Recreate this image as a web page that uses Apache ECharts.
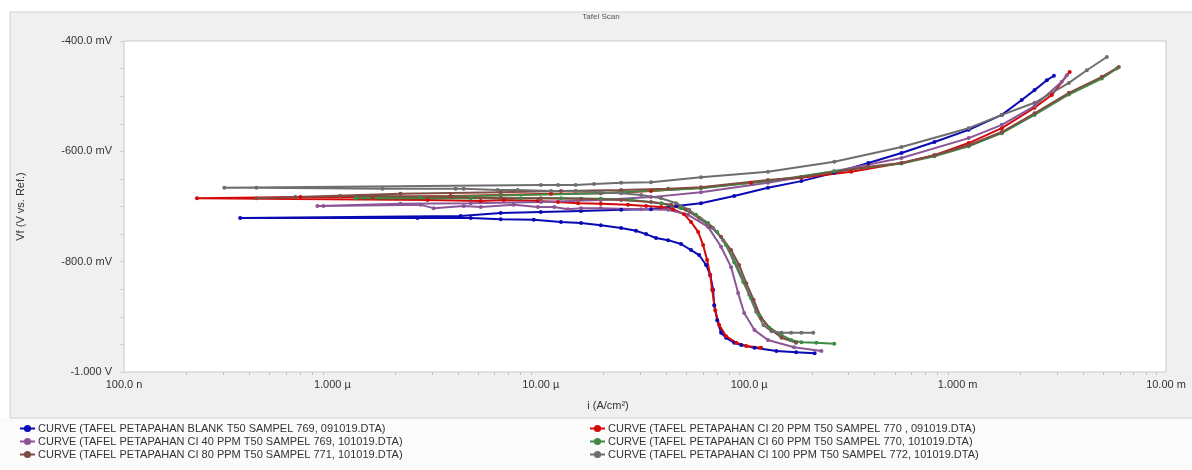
<!DOCTYPE html>
<html><head><meta charset="utf-8">
<script src="https://cdn.jsdelivr.net/npm/echarts@6/dist/echarts.min.js"></script>
<style>html,body{margin:0;padding:0;background:#fff}#c{width:1192px;height:470px}</style>
</head><body><div id="c"></div>
<script>
// current density in µA/cm², potential in mV (scan order: cathodic -> anodic)
const seriesNames = [
  'CURVE (TAFEL PETAPAHAN BLANK T50 SAMPEL 769, 091019.DTA)',
  'CURVE (TAFEL PETAPAHAN CI 20 PPM T50 SAMPEL 770 , 091019.DTA)',
  'CURVE (TAFEL PETAPAHAN CI 40 PPM T50 SAMPEL 769, 101019.DTA)',
  'CURVE (TAFEL PETAPAHAN CI 60 PPM T50 SAMPEL 770, 101019.DTA)',
  'CURVE (TAFEL PETAPAHAN CI 80 PPM T50 SAMPEL 771, 101019.DTA)',
  'CURVE (TAFEL PETAPAHAN CI 100 PPM T50 SAMPEL 772, 101019.DTA)'
];
const seriesColors = ['#0a0ab4', '#d40a0a', '#8c5596', '#3f8a45', '#7e4d44', '#6e6e6e'];

const blankI = [206,168,135,106,91.6,84.7,77.4,73.3,70.2,67.9,67.1,65.0,62.1,57.5,52.6,47.1,40.8,35.7,32.0,28.6,24.3,19.4,15.6,12.5,9.25,6.42,4.61,2.56,0.361,
  4.12,6.42,10,15.6,24.3,33.8,44.6,58.7,84.7,123,178,256,373,538,774,1130,1630,2030,2340,2680,2900];
const blankV = [-966,-964,-962,-956,-951,-947,-938,-929,-906,-879,-851,-824,-806,-788,-779,-768,-761,-757,-750,-744,-739,-734,-730,-728,-724,-723,-721,-721,-721,
  -717,-712,-710,-708,-706,-705,-699,-694,-681,-666,-654,-639,-621,-603,-583,-561,-534,-507,-489,-471,-463];

const ci20I = [114,96.8,86.7,77.4,71.8,68.7,66.4,65.0,62.8,60.1,56.9,52.6,48.7,43.1,37.8,32.0,26.2,19.4,15.1,12.1,9.68,6.64,5.15,2.86,0.224,
  0.702,1.56,3.69,6.42,11.2,19.4,33.8,58.7,102,178,309,538,774,1130,1630,2340,2830,3450];
const ci20V = [-956,-953,-947,-935,-915,-888,-851,-824,-797,-770,-746,-728,-714,-705,-701,-699,-697,-695,-694,-692,-690,-688,-690,-688,-685,
  -683,-683,-681,-679,-677,-676,-672,-666,-657,-648,-637,-621,-607,-585,-558,-521,-498,-456];

const ci40I = [222,164,123,106,94.6,88.5,81.9,73.3,63.5,50.9,40.8,30.3,19.4,15.6,13.5,11.6,9.68,7.41,5.15,4.27,3.06,2.65,0.906,0.847,
  2.12,4.61,10,19.4,33.8,58.7,123,256,538,1130,1630,2340,3160,3340];
const ci40V = [-962,-955,-942,-924,-893,-857,-810,-773,-737,-715,-706,-705,-703,-703,-705,-701,-701,-697,-701,-699,-703,-697,-699,-699,
  -695,-694,-692,-688,-683,-674,-657,-636,-612,-576,-552,-518,-474,-462];

const ci60I = [256,210,178,159,143,125,112,102,93.6,84.7,77.4,70.2,63.5,55.6,47.1,37.8,27.1,19.4,12.5,8.01,4.61,1.29,
  2.65,6.42,19.4,58.7,123,256,538,774,1130,1630,2340,3420,4920,5800];
const ci60V = [-949,-947,-946,-942,-933,-920,-897,-866,-837,-801,-770,-746,-730,-715,-703,-694,-688,-686,-685,-685,-685,-685,
  -683,-680,-676,-667,-654,-636,-622,-609,-591,-567,-534,-497,-468,-450];

const ci80I = [168,143,128,114,105,96.8,89.5,81.9,73.3,65.6,57.5,49.8,42.2,33.8,24.3,15.6,10,6.42,3.69,1.56,1.09,0.664,0.432,
  2.12,6.42,12.5,24.3,40.8,58.7,123,178,373,538,774,1130,1630,2340,3420,4920,5940];
const ci80V = [-947,-938,-924,-902,-869,-839,-806,-779,-755,-737,-721,-706,-697,-692,-688,-686,-685,-685,-683,-681,-681,-683,-685,
  -677,-674,-672,-670,-668,-665,-652,-647,-628,-621,-607,-589,-565,-531,-494,-465,-447];

const ci100I = [203,178,159,143,128,117,108,100,91.6,83.8,75.0,67.1,58.7,51.5,44.6,37.8,30.3,24.3,19.4,14.7,11.2,7.74,6.21,4.27,3.90,1.74,0.432,0.303,
  10,12.1,14.7,18.0,24.3,33.8,58.7,123,256,538,1130,1630,2340,3420,4170,5200];
const ci100V = [-929,-929,-929,-929,-926,-915,-891,-860,-824,-793,-761,-739,-723,-706,-694,-685,-679,-676,-674,-672,-672,-670,-670,-668,-668,-668,-666,-666,
  -661,-661,-661,-659,-657,-656,-647,-637,-619,-592,-558,-534,-512,-476,-453,-429];

const xTickValues = [0.1, 1, 10, 100, 1000, 10000];
const xTickLabels = ['100.0 n', '1.000 µ', '10.00 µ', '100.0 µ', '1.000 m', '10.00 m'];
const yTickValues = [-1000, -800, -600, -400];
const yTickLabels = ['-1.000 V', '-800.0 mV', '-600.0 mV', '-400.0 mV'];

const currents = [blankI, ci20I, ci40I, ci60I, ci80I, ci100I];
const potentials = [blankV, ci20V, ci40V, ci60V, ci80V, ci100V];

const FONT = 'Liberation Sans, Arial, sans-serif';
const chart = echarts.init(document.getElementById('c'), null, {renderer: 'canvas'});

const series = seriesNames.map((name, k) => ({
  name: name,
  type: 'line',
  data: currents[k].map((c, j) => [c, potentials[k][j]]),
  symbol: 'circle',
  symbolSize: 4,
  showSymbol: true,
  lineStyle: {width: 2, color: seriesColors[k]},
  itemStyle: {color: seriesColors[k]},
  color: seriesColors[k],
  animation: false,
  z: 2
}));

chart.setOption({
  backgroundColor: '#f0f0f0',
  animation: false,
  textStyle: {fontFamily: FONT},
  graphic: [
    {type: 'rect', shape: {x: 0, y: 0, width: 1192, height: 12}, style: {fill: '#ffffff'}, silent: true},
    {type: 'rect', shape: {x: 0, y: 0, width: 10, height: 418}, style: {fill: '#ffffff'}, silent: true},
    {type: 'rect', shape: {x: 0, y: 418, width: 1192, height: 52}, style: {fill: '#fbfbfb'}, silent: true},
    {type: 'line', shape: {x1: 10, y1: 12, x2: 1192, y2: 12}, style: {stroke: '#d0d0d0', lineWidth: 1}, silent: true},
    {type: 'line', shape: {x1: 10, y1: 12, x2: 10, y2: 418}, style: {stroke: '#d0d0d0', lineWidth: 1}, silent: true},
    {type: 'line', shape: {x1: 10, y1: 418, x2: 1192, y2: 418}, style: {stroke: '#d0d0d0', lineWidth: 1}, silent: true}
  ],
  title: {
    text: 'Tafel Scan', left: 596, top: 8, textAlign: 'center',
    textStyle: {fontSize: 8, fontWeight: 'normal', color: '#555', fontFamily: FONT}
  },
  grid: {
    left: 124, right: 26, top: 41, bottom: 98,
    show: true, backgroundColor: '#ffffff', borderColor: '#c8c8c8', borderWidth: 1
  },
  xAxis: {
    type: 'log', logBase: 10, min: 0.1, max: 10000,
    name: 'i (A/cm²)', nameLocation: 'middle', nameGap: 28,
    nameTextStyle: {fontSize: 11, color: '#333', padding: [0, 74, 0, 0], fontFamily: FONT},
    axisLine: {show: false},
    axisTick: {show: false},
    minorTick: {show: true, splitNumber: 9, length: 3, lineStyle: {color: '#c0c0c0'}},
    splitLine: {show: false},
    axisLabel: {
      fontSize: 11, color: '#333', margin: 7, fontFamily: FONT,
      formatter: v => {
        const i = xTickValues.findIndex(t => Math.abs(Math.log10(t) - Math.log10(v)) < 1e-6);
        return i >= 0 ? xTickLabels[i] : '';
      }
    }
  },
  yAxis: {
    type: 'value', min: -1000, max: -400, interval: 200,
    name: 'Vf (V vs. Ref.)', nameLocation: 'middle', nameGap: 98, nameRotate: 90,
    nameTextStyle: {fontSize: 11, color: '#333', padding: [0, 0, 0, 0], fontFamily: FONT},
    axisLine: {show: false},
    axisTick: {show: true, length: 4, inside: false, lineStyle: {color: '#d0d0d0'}},
    minorTick: {show: true, splitNumber: 4, length: 4, lineStyle: {color: '#d0d0d0'}},
    splitLine: {show: false},
    axisLabel: {
      fontSize: 11, color: '#333', margin: 12, fontFamily: FONT,
      formatter: v => {
        const i = yTickValues.indexOf(Math.round(v));
        return i >= 0 ? yTickLabels[i] : '';
      }
    }
  },
  legend: [
    {
      orient: 'vertical', left: 14, top: 418, itemGap: 2, itemWidth: 15, itemHeight: 9,
      data: [seriesNames[0], seriesNames[2], seriesNames[4]],
      textStyle: {fontSize: 11, color: '#333', fontFamily: FONT, padding: [0, 0, 0, -2]}
    },
    {
      orient: 'vertical', left: 584, top: 418, itemGap: 2, itemWidth: 15, itemHeight: 9,
      data: [seriesNames[1], seriesNames[3], seriesNames[5]],
      textStyle: {fontSize: 11, color: '#333', fontFamily: FONT, padding: [0, 0, 0, -2]}
    }
  ],
  series: series
});
</script>
</body></html>
